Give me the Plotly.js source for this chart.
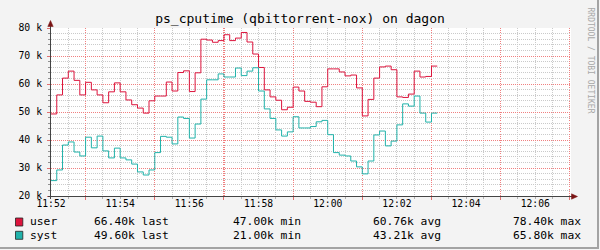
<!DOCTYPE html>
<html>
<head>
<meta charset="utf-8">
<script src="https://cdn.plot.ly/plotly-3.0.1.min.js"></script>
<style>
html,body{margin:0;padding:0;background:#F3F3F3;}
#chart{width:600px;height:250px;}
</style>
</head>
<body>
<div id="chart"></div>
<script>
// ---------------- data ----------------
const titleText = 'ps_cputime (qbittorrent-nox) on dagon';
const startTime = '2024-01-01T11:52:00Z';
const stepSeconds = 10;
const seriesNames = ['user', 'syst'];
// values in thousands, one per 10 s step
const userValues = [
  49.3, 56.1, 62.1, 64.6, 61.3, 56.1, 60.6, 57.9, 56.1, 53.3,
  57.2, 60.4, 57.2, 54.3, 52.6, 51.4, 49.6, 54.0, 55.7, 55.7,
  60.7, 57.5, 64.1, 64.7, 57.3, 64.0, 76.0, 75.7, 74.9, 75.5,
  77.6, 75.5, 76.4, 78.4, 75.0, 70.7, 65.9, 57.9, 55.4, 54.2,
  50.8, 51.7, 58.9, 57.5, 53.8, 53.5, 51.9, 59.0, 65.4, 65.4,
  64.3, 62.9, 63.2, 58.6, 48.6, 54.5, 62.1, 66.1, 66.4, 65.1,
  55.4, 55.2, 56.4, 64.6, 62.5, 62.7, 66.4
];
const systValues = [
  25.5, 29.3, 38.2, 39.3, 35.7, 34.3, 41.0, 37.2, 41.4, 36.1,
  33.6, 37.1, 33.6, 32.9, 31.4, 28.6, 27.5, 29.3, 35.5, 41.3,
  41.0, 38.6, 48.2, 47.7, 40.7, 45.7, 54.6, 61.5, 61.5, 63.6,
  62.5, 62.5, 65.7, 63.0, 64.6, 65.8, 57.5, 51.1, 47.7, 43.6,
  41.4, 42.9, 48.3, 44.3, 44.3, 44.8, 46.5, 47.0, 41.9, 35.5,
  34.6, 34.3, 32.5, 30.4, 27.9, 32.5, 41.8, 43.2, 37.9, 39.6,
  45.4, 52.9, 52.1, 55.7, 49.6, 46.4, 49.6
];
const statLabels = ['last', 'min', 'avg', 'max'];
const userStats = [66.40, 47.00, 60.76, 78.40];
const systStats = [49.60, 21.00, 43.21, 65.80];
const xTickLabels = ['11:52', '11:54', '11:56', '11:58', '12:00', '12:02', '12:04', '12:06'];
const yTickValues = [20, 30, 40, 50, 60, 70, 80];
const yTickLabels = ['20 k', '30 k', '40 k', '50 k', '60 k', '70 k', '80 k'];

// ---------------- styles / geometry ----------------
const COLORS = ['#DC143C', '#20B2AA'];
const FONT = 'DejaVu Sans Mono';
const PL = 51, PR = 571, PT = 28, PB = 196;
const px = x => (x - PL) / (PR - PL);
const py = y => (PB - y) / (PB - PT);
const DAY = '2024-01-01 ';
const base = Date.parse(startTime);
const fmt = ms => new Date(ms).toISOString().slice(0, 19).replace('T', ' ');

function stepSeries(vals) {
  const xs = vals.map((_, i) => fmt(base + i * stepSeconds * 1000));
  xs.push(fmt(base + vals.length * stepSeconds * 1000));
  return { x: xs, y: vals.concat([vals[vals.length - 1]]) };
}
const xRange = [fmt(base), fmt(base + 902 * 1000)];

const allSeries = [userValues, systValues];
const traces = allSeries.map((vals, k) => {
  const s = stepSeries(vals);
  return {
    type: 'scatter', mode: 'lines', x: s.x, y: s.y, name: seriesNames[k],
    line: { color: COLORS[k], width: 1, shape: 'hv' },
    hoverinfo: 'skip', showlegend: false
  };
});
// empty helper trace so the overlaid grid axis (x2) is created
traces.unshift({ type: 'scatter', mode: 'lines', x: xRange, y: [null, null], xaxis: 'x2', yaxis: 'y',
  hoverinfo: 'skip', showlegend: false });

const MAJOR = '#F08080', MINOR = '#CACACA', DASH = '1px,1px';
// grid positions: majors every 2 min from 11:53, minors every 30 s elsewhere
const xMajorVals = [], xMinorVals = [];
for (let s = 0; s <= 900; s += 30) {
  if ((s - 60) % 120 === 0) xMajorVals.push(fmt(base + s * 1000));
  else if (s > 0) xMinorVals.push(fmt(base + s * 1000));
}
const yMinorVals = [];
for (let v = 22; v < 80; v += 2) if (v % 10 !== 0) yMinorVals.push(v);

const shapes = [];
const annotations = [];
// axes lines and arrows
shapes.push({ type: 'line', xref: 'paper', yref: 'paper', x0: px(50.5), x1: px(50.5), y0: py(199), y1: py(24), line: { color: '#444', width: 1 }, layer: 'above' });
shapes.push({ type: 'line', xref: 'paper', yref: 'paper', x0: px(48), x1: px(573), y0: py(196.5), y1: py(196.5), line: { color: '#444', width: 1 }, layer: 'above' });
shapes.push({ type: 'path', xref: 'paper', yref: 'paper', layer: 'above',
  path: `M ${px(47.8)} ${py(26.5)} L ${px(50.5)} ${py(20.5)} L ${px(53.2)} ${py(26.5)} Z`,
  fillcolor: '#7A1414', line: { color: '#7A1414', width: 0.5 } });
shapes.push({ type: 'path', xref: 'paper', yref: 'paper', layer: 'above',
  path: `M ${px(571.5)} ${py(193.8)} L ${px(577.5)} ${py(196.5)} L ${px(571.5)} ${py(199.2)} Z`,
  fillcolor: '#7A1414', line: { color: '#7A1414', width: 0.5 } });
// frame shading
shapes.push({ type: 'rect', xref: 'paper', yref: 'paper', x0: px(597), x1: px(599), y0: py(0), y1: py(249), fillcolor: '#A3A3A3', line: { width: 0 }, layer: 'above' });
shapes.push({ type: 'rect', xref: 'paper', yref: 'paper', x0: px(0), x1: px(599), y0: py(247), y1: py(249), fillcolor: '#A3A3A3', line: { width: 0 }, layer: 'above' });

// legend
const legendRowsY = [222, 235.3];
const statStartX = [94.3, 233.3, 373.3, 513.3];
const statsBySeries = [userStats, systStats];
seriesNames.forEach((name, k) => {
  const yc = legendRowsY[k];
  shapes.push({ type: 'rect', xref: 'paper', yref: 'paper', x0: px(15.5), x1: px(22.8), y0: py(yc - 4), y1: py(yc + 4),
    fillcolor: COLORS[k], line: { color: '#222', width: 0.8 }, layer: 'above' });
  annotations.push({ xref: 'paper', yref: 'paper', x: px(29.5), y: py(yc), xanchor: 'left', yanchor: 'middle',
    text: name, showarrow: false, borderpad: 0, borderwidth: 0, font: { family: FONT, size: 11.3, color: '#000' } });
  statsBySeries[k].forEach((v, j) => {
    annotations.push({ xref: 'paper', yref: 'paper', x: px(statStartX[j]), y: py(yc), xanchor: 'left', yanchor: 'middle',
      text: v.toFixed(2) + 'k ' + statLabels[j], showarrow: false, borderpad: 0, borderwidth: 0,
      font: { family: FONT, size: 11.3, color: '#000' } });
  });
});
// watermark
annotations.push({ xref: 'paper', yref: 'paper', x: px(590.5), y: py(60), xanchor: 'center', yanchor: 'middle',
  text: 'RRDTOOL / TOBI OETIKER', textangle: 90, showarrow: false, borderpad: 0, borderwidth: 0,
  font: { family: FONT, size: 8, color: '#A8A8A8' } });

const layout = {
  width: 600, height: 250,
  margin: { l: PL, r: 600 - PR, t: PT, b: 250 - PB, pad: 0 },
  paper_bgcolor: '#F3F3F3', plot_bgcolor: '#FFFFFF',
  showlegend: false, hovermode: false,
  title: { text: titleText, font: { family: FONT, size: 13, color: '#000' },
    x: 0.5, xanchor: 'center', xref: 'container', y: 1 - 18.5 / 250, yanchor: 'middle', yref: 'container' },
  xaxis: {
    type: 'date', range: xRange, fixedrange: true,
    tickmode: 'array', tickvals: xTickLabels.map(t => DAY + t + ':00'), ticktext: xTickLabels,
    showgrid: false, zeroline: false, showline: false, ticks: '',
    tickfont: { family: FONT, size: 9.7, color: '#000' }
  },
  xaxis2: {
    type: 'date', range: xRange, overlaying: 'x', anchor: 'y', side: 'bottom', fixedrange: true,
    showticklabels: false, tickmode: 'array', tickvals: xMajorVals,
    showgrid: true, gridcolor: MAJOR, griddash: '1px,1.2px', gridwidth: 1.2,
    ticks: 'outside', ticklen: 3, tickcolor: '#E07070', zeroline: false, showline: false,
    minor: { tickmode: 'array', tickvals: xMinorVals, showgrid: true, gridcolor: MINOR, griddash: DASH, gridwidth: 1,
      ticks: 'outside', ticklen: 2, tickcolor: '#B0B0B0' }
  },
  yaxis: {
    range: [20, 80], fixedrange: true,
    tickmode: 'array', tickvals: yTickValues, ticktext: yTickLabels,
    showgrid: true, gridcolor: MAJOR, griddash: DASH, gridwidth: 1,
    ticks: 'outside', ticklen: 3, tickcolor: '#E07070', zeroline: false, showline: false,
    ticklabelstandoff: 3,
    tickfont: { family: FONT, size: 9.8, color: '#000' },
    minor: { tickmode: 'array', tickvals: yMinorVals, showgrid: true, gridcolor: MINOR, griddash: DASH, gridwidth: 1,
      ticks: 'outside', ticklen: 2, tickcolor: '#909090' }
  },
  shapes: shapes,
  annotations: annotations
};

Plotly.newPlot('chart', traces, layout, { staticPlot: true, displayModeBar: false });
</script>
</body>
</html>
